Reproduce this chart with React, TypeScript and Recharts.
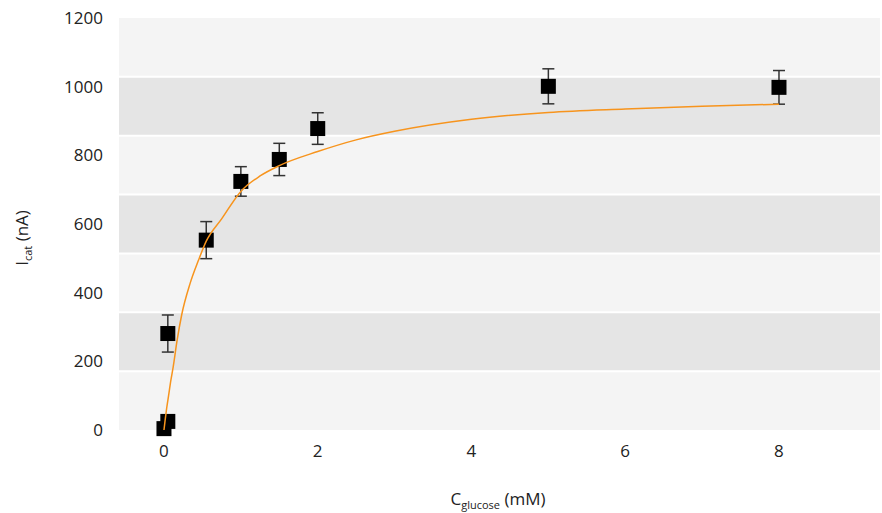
import React from "react";
import {
  ComposedChart,
  XAxis,
  YAxis,
  Scatter,
  Line,
  ErrorBar,
  ReferenceArea,
  ReferenceLine,
} from "recharts";

// Measured points (glucose concentration mM, catalytic current nA, error nA)
const concentrations = [0, 0.05, 0.05, 0.55, 1.0, 1.5, 2.0, 5.0, 8.0];
const currents = [4, 25, 281, 553, 724, 788, 878, 1001, 998];
const errors = [0, 0, 54, 54, 43, 47, 46, 51, 49];

// Fitted curve
const fitX = [0, 0.03, 0.06, 0.09, 0.12, 0.17, 0.23, 0.34, 0.45, 0.55, 0.75, 1.0, 1.25, 1.5, 2.0, 2.5, 3.0, 4.0, 5.0, 6.0, 7.0, 8.0];
const fitY = [0, 55, 100, 145, 184, 260, 335, 427, 495, 550, 615, 695, 740, 770, 811, 845, 870, 905, 925, 935, 943, 949];

const xTicks = [0, 2, 4, 6, 8];
const yTicks = [0, 200, 400, 600, 800, 1000, 1200];

const points = concentrations.map((x, i) => ({ x, y: currents[i], err: errors[i] }));
const curve = fitX.map((x, i) => ({ x, y: fitY[i] }));

const Y_MAX = 1200;
const BAND_COUNT = 7;
const bands = Array.from({ length: BAND_COUNT }, (_, k) => ({
  y1: (k * Y_MAX) / BAND_COUNT,
  y2: ((k + 1) * Y_MAX) / BAND_COUNT,
  fill: k % 2 === 0 ? "#f4f4f4" : "#e5e5e5",
}));

const FONT = "'Open Sans', 'Noto Sans', sans-serif";

const Square = (props: any) => {
  const { cx, cy } = props;
  if (cx == null || cy == null) return null;
  return <rect x={cx - 7.5} y={cy - 7.5} width={15} height={15} fill="#000" />;
};

export default function App() {
  return (
    <div>
      <style>{`body{margin:0;overflow:hidden;}`}</style>
      <ComposedChart
        width={882}
        height={513}
        margin={{ top: 18, right: 2, left: 0, bottom: 0 }}
      >
        <XAxis
          dataKey="x"
          type="number"
          domain={[-0.585, 9.314]}
          ticks={xTicks}
          axisLine={false}
          tickLine={false}
          tickSize={0}
          tickMargin={15}
          height={83}
          allowDataOverflow
          tick={{ fill: "#222", fontSize: 17, fontFamily: FONT }}
          label={{
            content: () => (
              <text
                x={498}
                y={505}
                textAnchor="middle"
                fill="#222"
                fontSize={17}
                fontFamily={FONT}
              >
                C
                <tspan fontSize={11} dy={4}>glucose</tspan>
                <tspan dy={-4}> (mM)</tspan>
              </text>
            ),
          }}
        />
        <YAxis
          dataKey="y"
          type="number"
          domain={[0, 1200]}
          ticks={yTicks}
          axisLine={false}
          tickLine={false}
          tickSize={0}
          tickMargin={16}
          width={119}
          tick={{ fill: "#222", fontSize: 17, fontFamily: FONT }}
          label={{
            content: () => (
              <text
                x={28}
                y={238}
                transform="rotate(-90 28 238)"
                textAnchor="middle"
                fill="#222"
                fontSize={17}
                fontFamily={FONT}
              >
                I
                <tspan fontSize={11} dy={4}>cat</tspan>
                <tspan dy={-4}> (nA)</tspan>
              </text>
            ),
          }}
        />
        {bands.map((b, i) => (
          <ReferenceArea
            key={"band" + i}
            y1={b.y1}
            y2={b.y2}
            fill={b.fill}
            fillOpacity={1}
            stroke="none"
          />
        ))}
        {bands.slice(1).map((b, i) => (
          <ReferenceLine key={"sep" + i} y={b.y1} stroke="#ffffff" strokeWidth={2} />
        ))}
        <Scatter data={points} shape={<Square />} isAnimationActive={false}>
          <ErrorBar dataKey="err" direction="y" width={6} stroke="#333" strokeWidth={1.5} />
        </Scatter>
        <Line
          data={curve}
          dataKey="y"
          type="monotone"
          stroke="#f7941d"
          strokeWidth={1.5}
          dot={false}
          activeDot={false}
          isAnimationActive={false}
          {...({ zIndex: 700 } as any)}
        />
      </ComposedChart>
    </div>
  );
}
